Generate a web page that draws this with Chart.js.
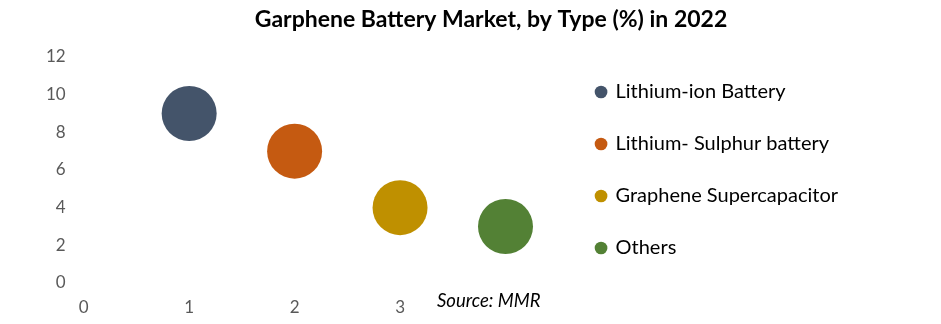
<!DOCTYPE html>
<html>
<head>
<meta charset="utf-8">
<script src="https://cdn.jsdelivr.net/npm/chart.js@4.4.0/dist/chart.umd.min.js"></script>
<style>
    html, body { margin: 0; padding: 0; background: #ffffff; }
    #wrap { width: 941px; height: 324px; position: relative; }
</style>
</head>
<body>
<div id="wrap"><canvas id="bubbleChart"></canvas></div>
<script>
    // Data
    const types = ['Lithium-ion Battery', 'Lithium- Sulphur battery', 'Graphene Supercapacitor', 'Others'];
    const xValues = [1, 2, 3, 4];
    const yValues = [9, 7, 4, 3];
    const bubbleSizes = [27.5, 27.5, 27.5, 27.5];
    const typeColors = ['#44546A', '#C55A11', '#BF9000', '#538135'];

    const TITLE = 'Garphene Battery Market, by Type (%) in 2022';
    const SOURCE = 'Source: MMR';
    const FONT = 'Lato, "Open Sans", sans-serif';

    // the full-height legend sits a bit low, lift it so it centres on the plot area
    const legendLift = {
        id: 'legendLift',
        beforeDraw(chart) {
            const lg = chart.legend;
            const shift = (lg.bottom - chart.chartArea.bottom) / 2;
            lg.top -= shift;
            lg.bottom -= shift;
        }
    };

    // Title + source note (source sits on a white box that hides the "4" tick, like the original)
    const textBits = {
        id: 'textBits',
        afterDraw(chart) {
            const ctx = chart.ctx;
            ctx.save();
            ctx.font = 'bold 23px ' + FONT;
            ctx.fillStyle = '#000000';
            ctx.textAlign = 'center';
            ctx.textBaseline = 'middle';
            ctx.fillText(TITLE, 491, 20);

            ctx.font = 'italic 18.5px ' + FONT;
            ctx.textAlign = 'left';
            ctx.textBaseline = 'alphabetic';
            const w = ctx.measureText(SOURCE).width;
            ctx.fillStyle = '#ffffff';
            ctx.fillRect(434, 290, w + 8, 26);
            ctx.fillStyle = '#000000';
            ctx.fillText(SOURCE, 437, 307);
            ctx.restore();
        }
    };

    const datasets = types.map((name, i) => ({
        label: name,
        data: [{ x: xValues[i], y: yValues[i], r: bubbleSizes[i] }],
        backgroundColor: typeColors[i],
        borderColor: typeColors[i],
        borderWidth: 0,
        hoverRadius: 0
    }));

    new Chart(document.getElementById('bubbleChart'), {
        type: 'bubble',
        data: { datasets: datasets },
        options: {
            responsive: true,
            maintainAspectRatio: false,
            animation: false,
            layout: { padding: { left: 28, right: 93, top: 57, bottom: 3 } },
            plugins: {
                title: { display: false },
                legend: {
                    position: 'right',
                    maxWidth: 400,
                    labels: {
                        usePointStyle: true,
                        pointStyle: 'circle',
                        boxWidth: 9,
                        boxHeight: 9,
                        padding: 32,
                        color: '#000000',
                        font: { family: FONT, size: 20 }
                    }
                },
                tooltip: { enabled: false }
            },
            scales: {
                x: {
                    type: 'linear',
                    min: 0,
                    max: 4.56,
                    grid: { display: false, drawTicks: false },
                    border: { display: false },
                    afterFit: scale => { scale.height = 38; },
                    ticks: {
                        stepSize: 1,
                        padding: 14,
                        color: '#595959',
                        font: { family: FONT, size: 17 },
                        callback: v => Number.isInteger(v) ? v : ''
                    }
                },
                y: {
                    min: 0,
                    max: 12,
                    grid: { display: false, drawTicks: false },
                    border: { display: false },
                    ticks: {
                        stepSize: 2,
                        padding: 18,
                        color: '#595959',
                        font: { family: FONT, size: 17 }
                    }
                }
            }
        },
        plugins: [legendLift, textBits]
    });
</script>
</body>
</html>
